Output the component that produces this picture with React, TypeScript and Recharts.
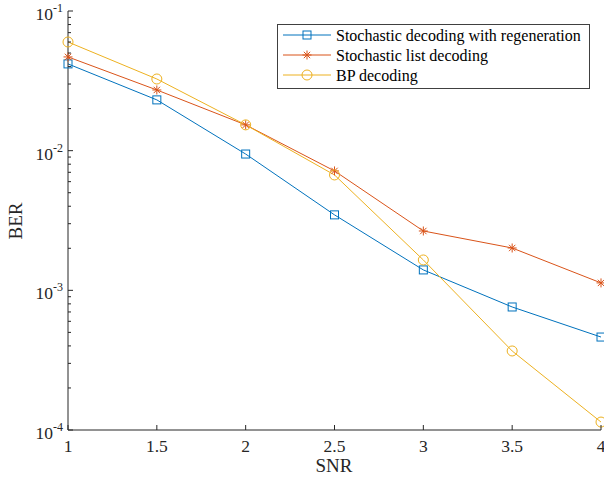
import React from 'react';
import { LineChart, Line, XAxis, YAxis } from 'recharts';

const snr = [1, 1.5, 2, 2.5, 3, 3.5, 4];
const berRegen = [0.0418, 0.0231, 0.00946, 0.00347, 0.0014, 0.00076, 0.000463];
const berList = [0.0469, 0.0272, 0.0153, 0.00716, 0.00266, 0.00201, 0.00113];
const berBP = [0.06, 0.0326, 0.0153, 0.0067, 0.00165, 0.000368, 0.000114];

const xTicks = [1, 1.5, 2, 2.5, 3, 3.5, 4];
const decades = [1e-4, 1e-3, 1e-2, 1e-1];
const decadeLabels = ['-4', '-3', '-2', '-1'];
const seriesNames = [
  'Stochastic decoding with regeneration',
  'Stochastic list decoding',
  'BP decoding',
];

const C_BLUE = '#0072BD';
const C_RED = '#D95319';
const C_YEL = '#EDB120';
const AX = '#262626';
const FONT = 'Liberation Serif, Times New Roman, serif';

const yTicks: number[] = [];
for (let k = -4; k < -1; k++) {
  for (let m = 1; m < 10; m++) yTicks.push(Number((m * Math.pow(10, k)).toPrecision(3)));
}
yTicks.push(1e-1);

const data = snr.map((s, i) => ({ snr: s, regen: berRegen[i], list: berList[i], bp: berBP[i] }));

const isMajor = (v: number) => decades.some((d) => Math.abs(v - d) / d < 1e-6);

const SquareDot = (props: any) => {
  const { cx, cy } = props;
  if (cx == null || cy == null) return null;
  return <rect x={cx - 4} y={cy - 4} width={8} height={8} fill="none" stroke={C_BLUE} strokeWidth={1} />;
};
const StarDot = (props: any) => {
  const { cx, cy } = props;
  if (cx == null || cy == null) return null;
  const r = 4.5;
  const d = r * 0.7071;
  return (
    <g stroke={C_RED} strokeWidth={1}>
      <line x1={cx - r} y1={cy} x2={cx + r} y2={cy} />
      <line x1={cx} y1={cy - r} x2={cx} y2={cy + r} />
      <line x1={cx - d} y1={cy - d} x2={cx + d} y2={cy + d} />
      <line x1={cx - d} y1={cy + d} x2={cx + d} y2={cy - d} />
    </g>
  );
};
const CircleDot = (props: any) => {
  const { cx, cy } = props;
  if (cx == null || cy == null) return null;
  return <circle cx={cx} cy={cy} r={5} fill="none" stroke={C_YEL} strokeWidth={1} />;
};

const LeftTick = (props: any) => {
  const { x, y, payload } = props;
  const v = payload.value;
  const major = isMajor(v);
  const idx = decades.findIndex((d) => Math.abs(v - d) / d < 1e-6);
  return (
    <g>
      <line x1={x} y1={y} x2={x + (major ? 5 : 3)} y2={y} stroke={AX} strokeWidth={1} />
      {major && (
        <text x={x - 5} y={y + 9} textAnchor="end" style={{ fontFamily: FONT }} fontSize={17.5} fill={AX}>
          <tspan>10</tspan>
          <tspan dy={-8} fontSize={12}>{decadeLabels[idx]}</tspan>
        </text>
      )}
    </g>
  );
};
const RightTick = (props: any) => {
  const { x, y, payload } = props;
  const major = isMajor(payload.value);
  return <line x1={x} y1={y} x2={x - (major ? 5 : 3)} y2={y} stroke={AX} strokeWidth={1} />;
};
const BottomTick = (props: any) => {
  const { x, y, payload } = props;
  return (
    <g>
      <line x1={x} y1={y} x2={x} y2={y - 5} stroke={AX} strokeWidth={1} />
      <text x={x} y={y + 22} textAnchor="middle" style={{ fontFamily: FONT }} fontSize={17.5} fill={AX}>
        {payload.value}
      </text>
    </g>
  );
};
const TopTick = (props: any) => {
  const { x, y } = props;
  return <line x1={x} y1={y} x2={x} y2={y + 5} stroke={AX} strokeWidth={1} />;
};

const LegendBox = () => {
  const rows = [
    { name: seriesNames[0], color: C_BLUE, Dot: SquareDot },
    { name: seriesNames[1], color: C_RED, Dot: StarDot },
    { name: seriesNames[2], color: C_YEL, Dot: CircleDot },
  ];
  return (
    <svg width={313} height={65} style={{ display: 'block' }}>
      <rect x={0.5} y={0.5} width={312} height={64} fill="#fff" stroke="#404040" strokeWidth={1} />
      {rows.map((r, i) => {
        const cy = 11 + i * 20;
        return (
          <g key={r.name}>
            <line x1={6} y1={cy} x2={54} y2={cy} stroke={r.color} strokeWidth={1} />
            <r.Dot cx={30} cy={cy} />
            <text x={59} y={cy + 5.5} style={{ fontFamily: FONT }} fontSize={16} fill="#000">
              {r.name}
            </text>
          </g>
        );
      })}
    </svg>
  );
};

export default function App() {
  return (
    <div style={{ position: 'absolute', left: 0, top: 0, width: 604, height: 481, background: '#fff' }}>
      <LineChart width={604} height={481} data={data} margin={{ top: 11, right: 3, bottom: 0, left: 0 }}>
        <XAxis
          xAxisId="b"
          dataKey="snr"
          type="number"
          domain={[1, 4]}
          ticks={xTicks}
          height={51}
          tickSize={0}
          tickMargin={0}
          tickLine={false}
          axisLine={{ stroke: AX, strokeWidth: 1 }}
          tick={<BottomTick />}
          interval={0}
        />
        <XAxis
          xAxisId="t"
          dataKey="snr"
          type="number"
          orientation="top"
          domain={[1, 4]}
          ticks={xTicks}
          height={0}
          tickSize={0}
          tickMargin={0}
          tickLine={false}
          axisLine={{ stroke: AX, strokeWidth: 1 }}
          tick={<TopTick />}
          interval={0}
        />
        <YAxis
          yAxisId="l"
          scale="log"
          type="number"
          domain={[1e-4, 1e-1]}
          allowDataOverflow
          ticks={yTicks}
          width={68}
          tickSize={0}
          tickMargin={0}
          tickLine={false}
          axisLine={{ stroke: AX, strokeWidth: 1 }}
          tick={<LeftTick />}
          interval={0}
        />
        <YAxis
          yAxisId="r"
          orientation="right"
          scale="log"
          type="number"
          domain={[1e-4, 1e-1]}
          allowDataOverflow
          ticks={yTicks}
          width={0}
          tickSize={0}
          tickMargin={0}
          tickLine={false}
          axisLine={{ stroke: AX, strokeWidth: 1 }}
          tick={<RightTick />}
          interval={0}
        />
        <Line xAxisId="b" yAxisId="l" dataKey="regen" name={seriesNames[0]} stroke={C_BLUE} strokeWidth={1} dot={<SquareDot />} isAnimationActive={false} />
        <Line xAxisId="b" yAxisId="l" dataKey="list" name={seriesNames[1]} stroke={C_RED} strokeWidth={1} dot={<StarDot />} isAnimationActive={false} />
        <Line xAxisId="b" yAxisId="l" dataKey="bp" name={seriesNames[2]} stroke={C_YEL} strokeWidth={1} dot={<CircleDot />} isAnimationActive={false} />
        <text x={334} y={472} textAnchor="middle" style={{ fontFamily: FONT }} fontSize={19} fill={AX}>SNR</text>
        <text x={22} y={221} textAnchor="middle" style={{ fontFamily: FONT }} fontSize={19} fill={AX} transform="rotate(-90 22 221)">BER</text>
      </LineChart>
      <div style={{ position: 'absolute', left: 277, top: 24 }}>
        <LegendBox />
      </div>
    </div>
  );
}
